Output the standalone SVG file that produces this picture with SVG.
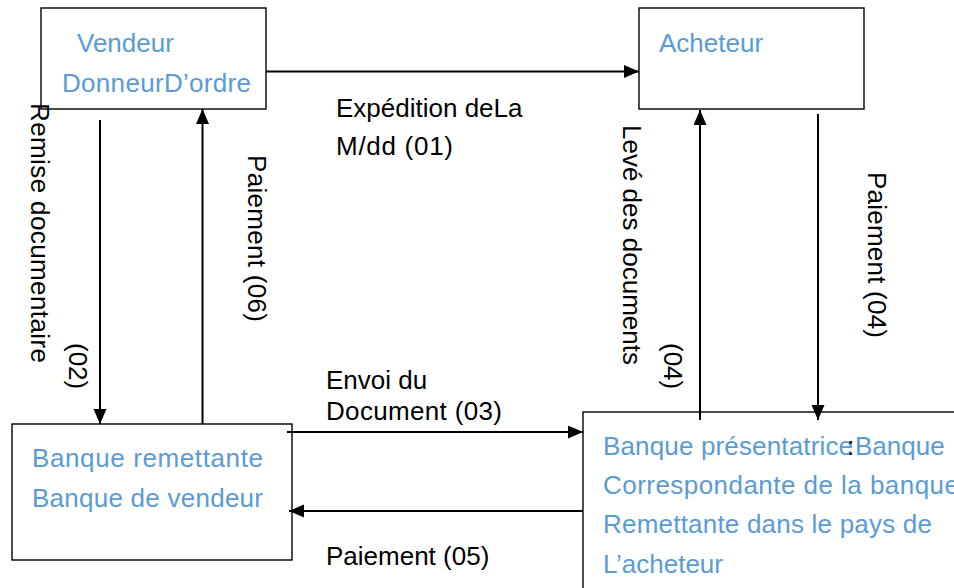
<svg xmlns="http://www.w3.org/2000/svg" width="954" height="588" viewBox="0 0 954 588">
  <style>
    .box { fill: #ffffff; stroke: #000000; stroke-width: 1.4; }
    .node { font-family: "Liberation Sans", Arial, sans-serif; font-size: 26px; fill: #5B9BD5; }
    .lbl { font-family: "Liberation Sans", Arial, sans-serif; font-size: 26px; fill: #000000; }
    .edge { stroke: #000000; stroke-width: 2; fill: none; marker-end: url(#arrow); }
  </style>
  <defs>
    <marker id="arrow" markerUnits="userSpaceOnUse" markerWidth="16" markerHeight="14" refX="15" refY="6.5" orient="auto">
      <path d="M0,0 L15,6.5 L0,13 z" fill="#000000"/>
    </marker>
  </defs>
  <rect width="954" height="588" fill="#ffffff"/>

  <g id="vendeur">
    <rect class="box" x="41" y="8" width="225" height="101"/>
    <text class="node" x="77" y="52">Vendeur</text>
    <text class="node" x="62" y="92" textLength="189">DonneurD’ordre</text>
  </g>

  <g id="acheteur">
    <rect class="box" x="639" y="8" width="225" height="101"/>
    <text class="node" x="659" y="52">Acheteur</text>
  </g>

  <g id="banque-remettante">
    <rect class="box" x="12" y="424" width="280" height="136"/>
    <text class="node" x="32" y="467" textLength="231">Banque remettante</text>
    <text class="node" x="32" y="507" textLength="231">Banque de vendeur</text>
  </g>

  <g id="banque-presentatrice">
    <rect class="box" x="583" y="412" width="420" height="220"/>
    <text class="node" x="603" y="455" textLength="250">Banque présentatrice</text>
    <text class="lbl" x="847" y="455">:</text>
    <text class="node" x="855" y="455">Banque</text>
    <text class="node" x="603" y="494" textLength="356">Correspondante de la banque</text>
    <text class="node" x="603" y="533" textLength="329">Remettante dans le pays de</text>
    <text class="node" x="603" y="573">L’acheteur</text>
  </g>

  <g id="connectors">
    <line class="edge" x1="266" y1="71.5" x2="639" y2="71.5"/>
    <line class="edge" x1="100" y1="120" x2="100" y2="424"/>
    <line class="edge" x1="202.5" y1="424" x2="202.5" y2="109"/>
    <line class="edge" x1="287" y1="432" x2="583" y2="432"/>
    <line class="edge" x1="583" y1="511" x2="289" y2="511"/>
    <line class="edge" x1="700" y1="420" x2="700" y2="110"/>
    <line class="edge" x1="818" y1="114" x2="818" y2="420"/>

    <text class="lbl" x="336" y="117">Expédition deLa</text>
    <text class="lbl" x="336" y="155" textLength="117">M/dd (01)</text>
    <text class="lbl" x="326" y="389">Envoi du</text>
    <text class="lbl" x="326" y="420" textLength="176">Document (03)</text>
    <text class="lbl" x="326" y="565">Paiement (05)</text>

    <text class="lbl" transform="translate(31,103) rotate(90)" textLength="260">Remise documentaire</text>
    <text class="lbl" transform="translate(69,343) rotate(90)">(02)</text>
    <text class="lbl" transform="translate(247.5,155) rotate(90)" textLength="167">Paiement (06)</text>
    <text class="lbl" transform="translate(623,125) rotate(90)">Levé des documents</text>
    <text class="lbl" transform="translate(663.5,343) rotate(90)">(04)</text>
    <text class="lbl" transform="translate(867.5,172) rotate(90)" textLength="166">Paiement (04)</text>
  </g>
</svg>
